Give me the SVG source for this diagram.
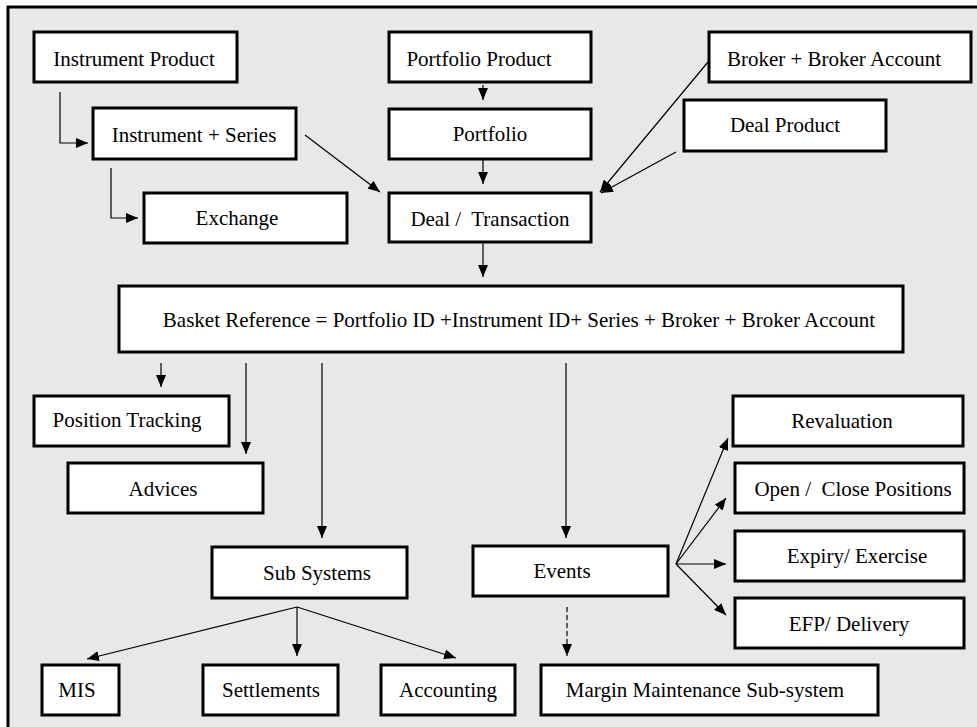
<svg xmlns="http://www.w3.org/2000/svg" width="977" height="727" viewBox="0 0 977 727">
<style>
.box{fill:#ffffff;stroke:#000000;stroke-width:3}
.lbl{font-family:'Liberation Serif','Times New Roman','DejaVu Serif',serif;font-size:21px;fill:#000000;text-anchor:middle}
.c{fill:none;stroke:#000000;stroke-width:1.2;marker-end:url(#ah)}
.dash{stroke-dasharray:5 3}
</style>
<defs>
<marker id="ah" markerUnits="userSpaceOnUse" markerWidth="12" markerHeight="10" refX="12" refY="5" orient="auto">
<path d="M0,0 L12,5 L0,10 z" fill="#000000"/>
</marker>
</defs>
<rect x="0" y="0" width="977" height="727" fill="#ffffff"/>
<g id="background">
<rect x="8" y="7" width="980" height="730" fill="#e8e8e8" stroke="#000000" stroke-width="3"/>
</g>
<g id="connectors">
<polyline class="c" points="60,92 60,143 88,143"/>
<polyline class="c" points="111,168 111,218 138,218"/>
<line class="c" x1="305" y1="135" x2="380" y2="192"/>
<line class="c" x1="483" y1="85" x2="483" y2="100"/>
<line class="c" x1="483" y1="160" x2="483" y2="184"/>
<line class="c" x1="708" y1="62" x2="600" y2="192"/>
<line class="c" x1="676" y1="152" x2="601" y2="193"/>
<line class="c" x1="483" y1="243" x2="483" y2="277"/>
<line class="c" x1="161" y1="363" x2="161" y2="387"/>
<line class="c" x1="246" y1="363" x2="246" y2="454"/>
<line class="c" x1="322" y1="363" x2="322" y2="538"/>
<line class="c" x1="566" y1="363" x2="566" y2="538"/>
<line class="c" x1="297" y1="607" x2="87" y2="659"/>
<line class="c" x1="297" y1="607" x2="297" y2="656"/>
<line class="c" x1="297" y1="607" x2="456" y2="658"/>
<line class="c dash" x1="567" y1="607" x2="567" y2="656"/>
<line class="c" x1="676" y1="564" x2="728" y2="438"/>
<line class="c" x1="676" y1="564" x2="726" y2="498"/>
<line class="c" x1="676" y1="564" x2="726" y2="564"/>
<line class="c" x1="676" y1="564" x2="726" y2="615"/>
</g>
<g id="instrument-product"><rect class="box" x="34" y="32" width="203" height="50"/><text class="lbl" x="134" y="66">Instrument Product</text></g>
<g id="instrument-series"><rect class="box" x="93" y="108" width="203" height="51"/><text class="lbl" x="194" y="142">Instrument + Series</text></g>
<g id="exchange"><rect class="box" x="144" y="193" width="203" height="50"/><text class="lbl" x="237" y="225">Exchange</text></g>
<g id="portfolio-product"><rect class="box" x="389" y="32" width="202" height="50"/><text class="lbl" x="479" y="66">Portfolio Product</text></g>
<g id="portfolio"><rect class="box" x="389" y="109" width="202" height="50"/><text class="lbl" x="490" y="141">Portfolio</text></g>
<g id="deal-transaction"><rect class="box" x="389" y="193" width="202" height="49"/><text class="lbl" x="490" y="226" xml:space="preserve">Deal /  Transaction</text></g>
<g id="broker"><rect class="box" x="709" y="32" width="262" height="50"/><text class="lbl" x="834" y="66">Broker + Broker Account</text></g>
<g id="deal-product"><rect class="box" x="684" y="100" width="202" height="51"/><text class="lbl" x="785" y="132">Deal Product</text></g>
<g id="basket"><rect class="box" x="119" y="286" width="784" height="66"/><text class="lbl" x="519" y="327">Basket Reference = Portfolio ID +Instrument ID+ Series + Broker + Broker Account</text></g>
<g id="position-tracking"><rect class="box" x="34" y="396" width="195" height="50"/><text class="lbl" x="127" y="427">Position Tracking</text></g>
<g id="advices"><rect class="box" x="68" y="463" width="195" height="50"/><text class="lbl" x="163" y="496">Advices</text></g>
<g id="sub-systems"><rect class="box" x="212" y="547" width="195" height="51"/><text class="lbl" x="317" y="580">Sub Systems</text></g>
<g id="events"><rect class="box" x="473" y="546" width="195" height="50"/><text class="lbl" x="562" y="578">Events</text></g>
<g id="revaluation"><rect class="box" x="733" y="396" width="230" height="50"/><text class="lbl" x="842" y="428">Revaluation</text></g>
<g id="open-close"><rect class="box" x="735" y="463" width="229" height="50"/><text class="lbl" x="853" y="496" xml:space="preserve">Open /  Close Positions</text></g>
<g id="expiry"><rect class="box" x="735" y="531" width="229" height="50"/><text class="lbl" x="857" y="563">Expiry/ Exercise</text></g>
<g id="efp"><rect class="box" x="735" y="598" width="229" height="50"/><text class="lbl" x="849" y="631">EFP/ Delivery</text></g>
<g id="mis"><rect class="box" x="42" y="665" width="77" height="50"/><text class="lbl" x="77" y="697">MIS</text></g>
<g id="settlements"><rect class="box" x="203" y="665" width="135" height="50"/><text class="lbl" x="271" y="697">Settlements</text></g>
<g id="accounting"><rect class="box" x="381" y="665" width="134" height="50"/><text class="lbl" x="448" y="697">Accounting</text></g>
<g id="margin"><rect class="box" x="541" y="665" width="337" height="50"/><text class="lbl" x="705" y="697">Margin Maintenance Sub-system</text></g>
</svg>
